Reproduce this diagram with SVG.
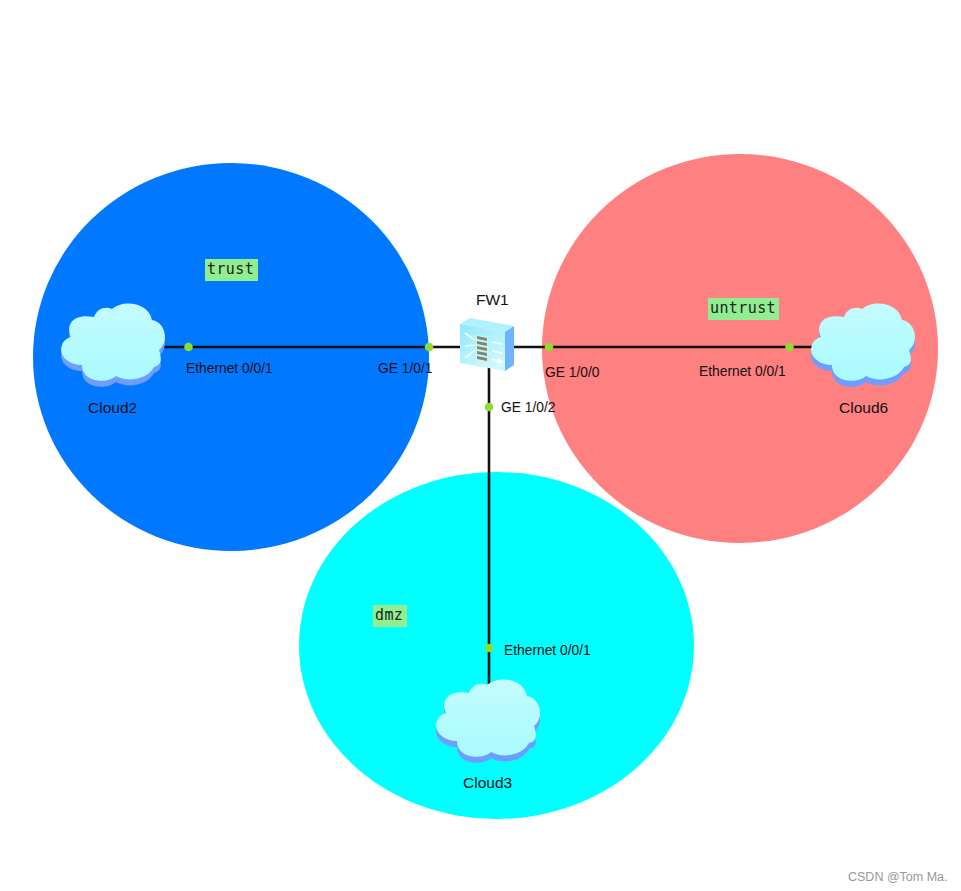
<svg xmlns="http://www.w3.org/2000/svg" xmlns:xlink="http://www.w3.org/1999/xlink" width="961" height="891" viewBox="0 0 961 891">
<style>
.lbl{font-family:"Liberation Sans",Arial,sans-serif;font-size:15.5px;fill:#111}
.small{font-size:13.8px}
.tag{fill:#90ee90}
.tagt{font-family:"DejaVu Sans Mono",monospace;font-size:15px;letter-spacing:.4px;fill:#222}
.link{stroke:#111;stroke-width:2.6;fill:none}
.dot{fill:#8ddc2f}
</style>
<defs>
<linearGradient id="cg" x1="0" y1="0" x2="0" y2="1"><stop offset="0" stop-color="#c4fbff"/><stop offset="1" stop-color="#a8fbff"/></linearGradient>
<linearGradient id="ff" x1="0" y1="0" x2="0.6" y2="1"><stop offset="0" stop-color="#8fe8ff"/><stop offset="1" stop-color="#cdf9ff"/></linearGradient>
<marker id="ah" viewBox="0 0 6 6" refX="5" refY="3" markerWidth="3.500" markerHeight="3.500" orient="auto"><path d="M0 0L6 3L0 6Z" fill="#fff"/></marker>
<path id="cp" d="M9 34C3 21 12 10 32 14C35 5 44 3 50 6C60 -3 86 -2 90 17C103 19 108 38 97 47C100 56 100 62 92 64C86 76 66 80 54 73C46 81 20 80 20 62C6 62 -4 52 0 42C1 38 5 35 9 34Z"/>
<symbol id="cloud" overflow="visible">
<use xlink:href="#cp" href="#cp" y="6" fill="#6f9dff"/>
<use xlink:href="#cp" href="#cp" fill="url(#cg)"/>
</symbol>
</defs>
<rect width="961" height="891" fill="#fff"/>
<g id="zone-trust"><ellipse cx="231" cy="357" rx="198" ry="194" fill="#0078ff"/>
<rect class="tag" x="205" y="259" width="53" height="22"/><text class="tagt" x="207" y="274">trust</text></g>
<g id="zone-untrust"><ellipse cx="740" cy="348.500" rx="198" ry="194.500" fill="#ff8080"/>
<rect class="tag" x="708" y="298" width="71" height="22"/><text class="tagt" x="710" y="313">untrust</text></g>
<g id="zone-dmz"><ellipse cx="496.500" cy="645.500" rx="197.500" ry="173.500" fill="#00ffff"/>
<rect class="tag" x="373" y="605" width="34" height="22"/><text class="tagt" x="375" y="620">dmz</text></g>
<g id="connectors">
<path class="link" d="M160 347H464"/>
<path class="link" d="M510 347H816"/>
<path class="link" d="M489 366V684"/>
<circle class="dot" cx="188.500" cy="347" r="4.300"/>
<circle class="dot" cx="429" cy="347" r="4.300"/>
<circle class="dot" cx="549" cy="347" r="4.300"/>
<circle class="dot" cx="789.500" cy="347" r="4.300"/>
<circle class="dot" cx="489" cy="407" r="4.300"/>
<circle class="dot" cx="489" cy="648" r="4.300"/>
<text class="lbl small" x="186" y="373">Ethernet 0/0/1</text>
<text class="lbl small" x="378" y="373">GE 1/0/1</text>
<text class="lbl small" x="545" y="377">GE 1/0/0</text>
<text class="lbl small" x="699" y="376">Ethernet 0/0/1</text>
<text class="lbl small" x="501" y="412">GE 1/0/2</text>
<text class="lbl small" x="504" y="655">Ethernet 0/0/1</text>
</g>
<g id="Cloud2"><use xlink:href="#cloud" href="#cloud" x="62" y="303"/><text class="lbl" x="88" y="412.500">Cloud2</text></g>
<g id="Cloud6"><use xlink:href="#cloud" href="#cloud" x="812" y="303"/><text class="lbl" x="839" y="412.500">Cloud6</text></g>
<g id="Cloud3"><use xlink:href="#cloud" href="#cloud" x="437" y="679"/><text class="lbl" x="463" y="787.500">Cloud3</text></g>
<g id="FW1">
<polygon points="460,324 470,318 514,326 505,332" fill="#aef1ff"/>
<polygon points="505,332 514,326 514,365 505,371" fill="#6fb4ff"/>
<polygon points="460,324 505,332 505,371 460,363" fill="url(#ff)"/>
<polygon points="476,335 488,337 488,364 476,362" fill="#dfeee6"/>
<g fill="#6d8f80"><path d="M477 336l10 2v3l-10-2zM477 341l10 2v3l-10-2zM477 346l10 2v3l-10-2zM477 351l10 2v3l-10-2zM477 356l10 2v3l-10-2z"/></g>
<path d="M465 333L475 340M465 346L475 345M465 358L475 350M492 342L502 344M492 351L502 353M492 359L502 362" stroke="#fff" stroke-width="1.600" fill="none" marker-end="url(#ah)"/>
<text class="lbl" x="476" y="305">FW1</text>
</g>
<text x="848" y="881" font-family="'Liberation Sans',Arial,sans-serif" font-size="12.500" fill="#999">CSDN @Tom Ma.</text>
</svg>
